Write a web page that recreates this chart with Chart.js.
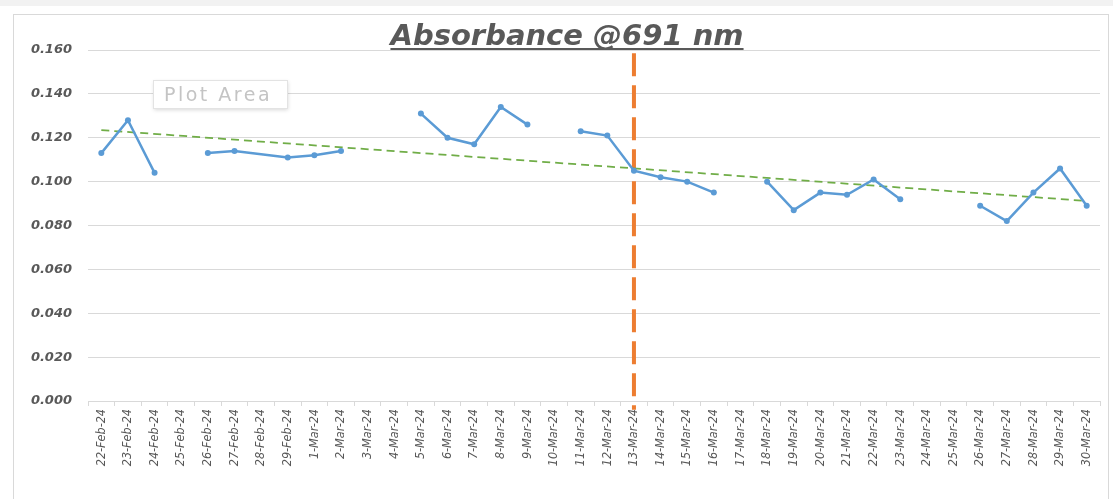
<!DOCTYPE html>
<html>
<head>
<meta charset="utf-8">
<title>Absorbance @691 nm</title>
<script src="https://cdn.jsdelivr.net/npm/chart.js@4.4.1/dist/chart.umd.min.js"></script>
<style>
  html, body { margin: 0; padding: 0; background: #ffffff; }
  #band { position: absolute; left: 0; top: 0; width: 1113px; height: 6px; background: #f2f2f2; }
  #frame { position: absolute; left: 13px; top: 14px; width: 1094px; height: 490px; border: 1px solid #d9d9d9; border-bottom: none; }
  #wrap { position: absolute; left: 0; top: 0; width: 1113px; height: 499px; }
</style>
</head>
<body>
<div id="band"></div>
<div id="frame"></div>
<div id="wrap"><canvas id="chart" width="1113" height="499"></canvas></div>
<script>
const dates = [
  "22-Feb-24", "23-Feb-24", "24-Feb-24", "25-Feb-24", "26-Feb-24", "27-Feb-24", "28-Feb-24", "29-Feb-24",
  "1-Mar-24", "2-Mar-24", "3-Mar-24", "4-Mar-24", "5-Mar-24", "6-Mar-24", "7-Mar-24", "8-Mar-24",
  "9-Mar-24", "10-Mar-24", "11-Mar-24", "12-Mar-24", "13-Mar-24", "14-Mar-24", "15-Mar-24", "16-Mar-24",
  "17-Mar-24", "18-Mar-24", "19-Mar-24", "20-Mar-24", "21-Mar-24", "22-Mar-24", "23-Mar-24", "24-Mar-24",
  "25-Mar-24", "26-Mar-24", "27-Mar-24", "28-Mar-24", "29-Mar-24", "30-Mar-24"
];

const absorbance = [
  0.113, 0.128, 0.104, null, 0.113, 0.114, null, 0.111,
  0.112, 0.114, null, null, 0.131, 0.120, 0.117, 0.134,
  0.126, null, 0.123, 0.121, 0.105, 0.102, 0.100, 0.095,
  null, 0.100, 0.087, 0.095, 0.094, 0.101, 0.092, null,
  null, 0.089, 0.082, 0.095, 0.106, 0.089
];

// days with #N/A (line is carried across them), other blanks leave a gap
const spannedDays = ["28-Feb-24"];

// linear trendline end values
const trendStart = 0.1235;
const trendEnd = 0.0912;

// vertical marker line
const markerDay = "13-Mar-24";
const markerRange = [0.1585, -0.004];

const yTicks = [0, 0.02, 0.04, 0.06, 0.08, 0.1, 0.12, 0.14, 0.16];

const trend = dates.map((d, i) => i === 0 ? trendStart : (i === dates.length - 1 ? trendEnd : null));
const marker = markerRange.map(v => ({ x: markerDay, y: v }));

function isGap(pt, idx) {
  return pt.skip && !spannedDays.includes(dates[idx]);
}

const grey = "#595959";

const decorPlugin = {
  id: "decor",
  afterDraw(chart) {
    const ctx = chart.ctx;
    ctx.save();
    // title with underline
    ctx.font = "italic bold 29px 'DejaVu Sans'";
    ctx.fillStyle = grey;
    ctx.textAlign = "center";
    ctx.textBaseline = "alphabetic";
    const title = "Absorbance @691 nm";
    const cx = 567, by = 45;
    ctx.fillText(title, cx, by);
    const w = ctx.measureText(title).width;
    ctx.fillRect(cx - w / 2, by + 3, w, 2);

    // "Plot Area" hover label
    ctx.shadowColor = "rgba(0,0,0,0.16)";
    ctx.shadowBlur = 4;
    ctx.shadowOffsetX = 1;
    ctx.shadowOffsetY = 2;
    ctx.fillStyle = "#ffffff";
    ctx.fillRect(153, 80, 134, 28);
    ctx.shadowColor = "transparent";
    ctx.strokeStyle = "#e3e3e3";
    ctx.lineWidth = 1;
    ctx.strokeRect(153.5, 80.5, 134, 28);
    ctx.fillStyle = "#c4c4c4";
    ctx.font = "19px 'DejaVu Sans'";
    ctx.letterSpacing = "2.5px";
    ctx.textAlign = "left";
    ctx.textBaseline = "alphabetic";
    ctx.fillText("Plot Area", 164, 101);
    ctx.restore();
  }
};

new Chart(document.getElementById("chart"), {
  type: "line",
  data: {
    labels: dates,
    datasets: [
      {
        label: "Absorbance",
        data: absorbance,
        borderColor: "#5b9bd5",
        backgroundColor: "#5b9bd5",
        borderWidth: 2.5,
        pointRadius: 3,
        pointBorderWidth: 0,
        pointHoverRadius: 3,
        spanGaps: true,
        tension: 0,
        order: 1,
        segment: {
          borderColor: c => (isGap(c.p0, c.p0DataIndex) || isGap(c.p1, c.p1DataIndex)) ? "rgba(0,0,0,0)" : undefined
        }
      },
      {
        label: "Trend",
        data: trend,
        borderColor: "#70ad47",
        borderWidth: 1.75,
        borderDash: [8, 5],
        pointRadius: 0,
        spanGaps: true,
        order: 2
      },
      {
        label: "Marker",
        data: marker,
        borderColor: "#ed7d31",
        borderWidth: 4,
        borderDash: [23, 9],
        pointRadius: 0,
        clip: false,
        order: 3
      }
    ]
  },
  options: {
    responsive: false,
    animation: false,
    layout: { padding: { top: 50, right: 13, left: 0, bottom: 0 } },
    plugins: {
      legend: { display: false },
      tooltip: { enabled: false },
      title: { display: false }
    },
    scales: {
      x: {
        type: "category",
        offset: true,
        afterFit: s => { s.height = 98; },
        grid: {
          offset: true,
          drawOnChartArea: false,
          drawTicks: true,
          tickLength: 5,
          color: "#d9d9d9"
        },
        border: { color: "#d9d9d9" },
        ticks: {
          autoSkip: false,
          minRotation: 90,
          maxRotation: 90,
          padding: 3,
          color: grey,
          font: { family: "'Liberation Sans Narrow', 'DejaVu Sans Condensed', sans-serif", size: 12.5, style: "italic" }
        }
      },
      y: {
        min: 0,
        max: 0.16,
        afterFit: s => { s.width = 88; },
        afterBuildTicks: s => { s.ticks = yTicks.map(v => ({ value: v })); },
        grid: { color: "#d9d9d9", drawTicks: false },
        border: { display: false },
        ticks: {
          padding: 16,
          color: grey,
          font: { family: "'DejaVu Sans'", size: 13, style: "italic", weight: "bold" },
          callback: v => v.toFixed(3)
        }
      }
    }
  },
  plugins: [decorPlugin]
});
</script>
</body>
</html>
